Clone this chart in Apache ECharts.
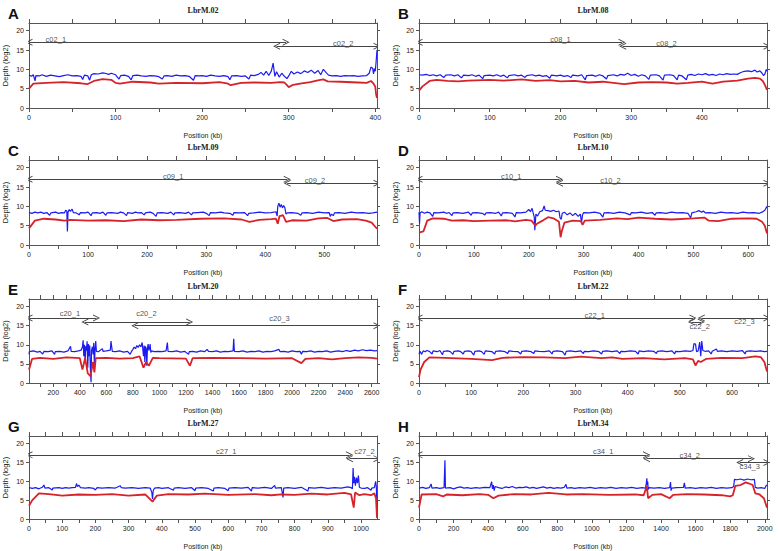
<!DOCTYPE html>
<html><head><meta charset="utf-8">
<script src="https://cdn.jsdelivr.net/npm/echarts@6/dist/echarts.min.js"></script>
<style>html,body{margin:0;padding:0;background:#fff}#c{width:779px;height:551px}</style>
</head><body><div id="c"></div>
<script>
// ---------------- DATA ----------------
const panelTitles = ['LbrM.02','LbrM.08','LbrM.09','LbrM.10','LbrM.20','LbrM.22','LbrM.27','LbrM.34'];
const panelLetters = ['A','B','C','D','E','F','G','H'];
const xMin = [0,0,0,0,17,0,0,0];
const xMax = [402,492,589,634,2640,667,1048,2013];
const xTickStep = [50,50,50,50,100,50,50,100];
const xLabelsA = [0,100,200,300,400];
const xLabelsB = [0,100,200,300,400];
const xLabelsC = [0,100,200,300,400,500];
const xLabelsD = [0,100,200,300,400,500,600];
const xLabelsE = [200,400,600,800,1000,1200,1400,1600,1800,2000,2200,2400,2600];
const xLabelsF = [0,100,200,300,400,500,600];
const xLabelsG = [0,100,200,300,400,500,600,700,800,900,1000];
const xLabelsH = [0,200,400,600,800,1000,1200,1400,1600,1800,2000];
const yLabels = [0,5,10,15,20];
const yMax = 22;

const blueA = [[0,8.5],[3,8.2],[5,8.6],[7,7.0],[8,8.4],[12,8.3],[15,8.6],[20,8.2],[25,8.5],[30,8.3],[35,8.1],[40,8.4],[45,8.6],[50,8.3],[55,8.4],[60,8.2],[62,7.4],[64,8.5],[68,8.3],[70,7.2],[72,8.6],[75,8.9],[80,8.8],[85,9.1],[88,9.0],[92,8.7],[95,9.0],[100,8.6],[104,7.5],[106,8.4],[110,8.5],[115,8.2],[118,7.3],[120,8.4],[125,8.5],[130,8.3],[135,8.2],[140,8.4],[145,8.3],[150,8.1],[154,7.5],[156,8.3],[160,8.4],[165,8.2],[170,8.5],[175,8.3],[180,8.4],[185,8.2],[190,7.2],[192,8.4],[196,8.3],[200,8.4],[205,8.2],[210,8.5],[215,8.3],[220,8.2],[225,8.4],[230,8.1],[232,7.3],[234,8.3],[240,8.4],[245,8.2],[250,8.3],[254,7.5],[256,8.5],[260,8.4],[265,8.7],[268,9.2],[271,8.5],[274,9.5],[277,8.4],[280,9.6],[282,11.6],[284,8.2],[286,9.4],[289,8.0],[292,9.0],[295,8.2],[298,7.6],[300,8.3],[303,9.5],[306,8.8],[310,9.3],[314,8.9],[318,9.6],[322,9.2],[326,9.8],[330,9.0],[334,9.7],[337,8.6],[340,10.0],[343,9.2],[346,8.5],[350,8.3],[355,8.4],[360,8.2],[365,8.4],[370,8.3],[375,8.4],[380,8.2],[385,8.3],[390,8.4],[393,9.0],[395,10.6],[397,10.3],[398,8.8],[399,10.2],[400,9.5],[401,12.0],[402,15.0]];
const redA = [[0,5.0],[5,6.3],[20,6.5],[40,6.7],[60,6.4],[68,6.2],[75,7.0],[85,7.5],[95,7.3],[100,6.5],[105,6.3],[120,6.8],[140,6.6],[150,6.3],[170,6.5],[200,6.4],[220,6.7],[230,6.3],[233,5.9],[245,6.5],[260,6.6],[280,6.5],[290,6.7],[295,6.6],[298,5.9],[300,5.4],[305,6.0],[315,6.4],[325,6.7],[335,7.2],[340,7.4],[345,6.9],[360,6.8],[380,6.6],[390,6.5],[395,7.0],[398,6.3],[400,5.5],[401,3.5],[402,2.6]];

const blueB = [[0,8.6],[5,8.5],[10,8.7],[15,8.4],[20,8.6],[25,8.3],[30,8.6],[35,7.9],[38,8.5],[45,8.6],[50,8.3],[55,8.6],[60,7.8],[63,8.5],[70,8.4],[75,8.6],[80,8.2],[85,8.5],[90,7.6],[92,8.4],[100,8.5],[105,8.3],[110,8.6],[115,8.2],[120,8.5],[125,7.8],[127,8.4],[135,8.6],[140,8.3],[145,8.5],[150,7.9],[152,8.4],[160,8.6],[165,8.3],[170,8.5],[175,8.2],[180,8.4],[185,7.7],[187,8.5],[195,8.3],[200,8.5],[205,8.2],[210,8.4],[215,7.9],[217,8.5],[225,8.3],[230,8.6],[235,7.3],[237,8.4],[245,8.5],[250,8.2],[255,8.6],[260,8.3],[265,7.5],[267,8.4],[275,8.6],[280,8.3],[285,8.7],[290,8.5],[295,9.0],[300,8.4],[305,8.7],[310,8.2],[315,8.6],[320,8.3],[325,7.4],[327,8.5],[335,8.6],[340,8.3],[345,7.2],[347,8.5],[355,8.6],[360,8.4],[365,7.3],[367,8.5],[372,8.3],[378,7.3],[380,8.5],[385,8.7],[390,8.4],[395,8.8],[400,8.6],[405,8.9],[410,8.5],[415,8.7],[420,8.4],[425,8.8],[430,8.6],[435,8.9],[440,8.7],[445,8.8],[450,8.7],[455,9.2],[460,9.5],[465,9.6],[470,9.4],[475,9.8],[478,9.3],[482,9.6],[485,9.0],[487,8.4],[489,8.8],[491,10.0],[492,9.5]];
const redB = [[0,4.5],[5,5.6],[15,7.0],[25,7.3],[40,7.0],[55,6.9],[70,7.1],[100,7.3],[120,7.1],[145,7.4],[165,7.0],[185,7.2],[200,6.9],[220,7.0],[240,6.6],[260,6.8],[275,6.5],[290,6.2],[310,6.6],[330,6.7],[350,6.6],[365,6.3],[380,6.5],[400,6.8],[415,6.3],[430,6.8],[450,7.1],[465,7.6],[475,7.8],[482,7.6],[486,7.0],[489,6.0],[492,4.7]];

const blueC = [[0,8.4],[5,8.2],[10,8.5],[15,8.3],[20,8.5],[25,8.2],[30,8.4],[35,7.7],[37,8.3],[45,8.5],[50,8.2],[55,8.4],[60,8.3],[62,9.0],[64,8.8],[65,3.5],[66,8.5],[68,9.2],[70,8.7],[73,9.3],[75,8.4],[80,8.3],[85,7.8],[87,8.4],[95,8.3],[100,8.5],[105,7.6],[107,8.3],[115,8.4],[120,8.2],[125,8.5],[130,7.7],[132,8.3],[140,8.4],[150,8.2],[155,8.5],[160,8.3],[165,7.6],[167,8.4],[175,8.2],[180,8.5],[185,8.3],[190,8.4],[195,7.8],[197,8.3],[205,8.5],[210,8.2],[215,7.4],[217,8.3],[225,8.4],[235,8.2],[240,8.5],[245,7.8],[247,8.3],[255,8.4],[265,8.2],[270,8.5],[275,7.8],[277,8.3],[285,8.4],[295,8.5],[300,8.2],[305,7.6],[307,8.4],[315,8.3],[325,8.5],[330,8.3],[340,8.2],[345,7.7],[347,8.4],[355,8.3],[365,8.4],[370,7.6],[372,8.2],[380,8.3],[390,8.5],[400,8.3],[410,8.4],[418,8.6],[420,7.5],[421,10.0],[423,10.8],[425,9.8],[427,10.5],[429,9.6],[431,10.2],[433,9.7],[435,8.0],[437,8.3],[445,8.4],[455,8.2],[460,7.7],[462,8.3],[470,8.4],[480,8.2],[490,8.5],[500,8.3],[508,8.4],[510,7.4],[512,8.0],[515,7.6],[517,8.3],[525,8.4],[535,8.2],[545,8.5],[555,8.3],[565,8.4],[575,8.2],[582,8.3],[589,8.5]];
const redC = [[0,4.3],[10,6.3],[25,6.8],[45,6.6],[60,6.3],[70,6.5],[100,6.3],[130,6.4],[160,6.2],[190,6.6],[220,6.4],[250,6.5],[290,6.8],[330,6.9],[360,6.6],[373,6.0],[390,6.5],[410,6.7],[418,6.8],[421,5.5],[424,7.5],[430,7.7],[435,6.0],[445,6.4],[470,6.3],[490,6.9],[505,7.0],[515,6.2],[530,6.6],[555,6.7],[570,6.3],[580,5.8],[589,4.2]];

const blueD = [[0,8.5],[1,5.5],[2,8.3],[5,8.6],[10,8.2],[15,8.5],[20,8.3],[25,7.4],[27,8.4],[35,8.3],[45,8.5],[50,8.2],[55,8.4],[60,7.6],[62,8.3],[70,8.4],[80,8.2],[90,8.5],[95,7.7],[97,8.3],[105,8.4],[115,8.2],[120,7.8],[122,8.3],[130,8.4],[140,8.2],[145,8.5],[150,7.5],[152,8.3],[160,8.4],[170,8.2],[175,7.3],[177,8.4],[185,8.3],[195,8.5],[200,9.2],[203,8.6],[206,9.5],[208,8.3],[210,7.2],[211,3.8],[213,8.0],[216,7.5],[220,8.6],[225,8.9],[228,10.1],[230,9.0],[235,8.9],[240,8.7],[245,9.0],[250,8.6],[255,8.8],[257,7.0],[259,6.6],[261,8.2],[265,8.5],[270,7.8],[275,8.3],[280,7.6],[285,8.2],[290,7.4],[294,8.0],[296,5.8],[298,7.8],[300,8.4],[310,8.3],[320,8.5],[330,8.2],[335,7.2],[337,8.3],[345,8.4],[355,8.2],[365,8.5],[375,8.3],[385,7.8],[387,8.4],[395,8.3],[405,8.5],[415,8.2],[425,8.4],[430,7.7],[432,8.3],[440,8.4],[450,8.2],[460,8.5],[470,8.3],[480,8.4],[490,8.2],[495,7.0],[497,8.3],[505,8.6],[510,8.9],[515,8.5],[518,8.8],[522,8.3],[530,8.4],[540,8.2],[550,8.5],[560,8.3],[570,8.4],[580,8.2],[590,8.5],[600,8.3],[610,8.4],[620,8.2],[625,8.5],[630,9.0],[634,10.0]];
const redD = [[0,3.2],[8,3.5],[15,6.3],[25,6.9],[45,6.8],[60,6.3],[80,6.4],[100,6.2],[130,6.3],[160,6.4],[175,6.1],[195,6.5],[205,6.3],[212,5.0],[215,5.5],[225,6.3],[235,7.2],[245,6.9],[255,6.0],[258,2.0],[260,3.5],[265,5.8],[280,6.3],[295,6.2],[298,5.2],[302,6.3],[330,6.5],[360,6.9],[380,6.7],[400,7.1],[430,6.8],[460,6.6],[500,6.9],[520,7.1],[528,6.3],[545,6.2],[570,6.8],[600,6.9],[615,6.8],[625,6.0],[630,5.0],[634,3.0]];

const blueE = [[17,7.5],[20,8.2],[50,8.4],[80,8.1],[100,8.3],[120,7.6],[130,8.3],[160,8.2],[190,8.4],[210,7.5],[215,8.2],[250,8.3],[280,8.1],[310,8.4],[330,9.6],[335,8.3],[360,8.2],[390,8.4],[410,8.6],[420,9.5],[425,11.2],[430,7.0],[435,10.0],[440,5.5],[445,9.6],[450,8.5],[455,10.9],[460,4.0],[465,10.2],[470,7.0],[475,9.8],[480,3.0],[485,0.2],[488,8.5],[495,9.5],[500,7.5],[505,10.5],[510,4.5],[515,9.0],[520,11.0],[525,8.3],[540,8.2],[570,9.0],[575,8.3],[600,8.4],[630,8.6],[635,11.0],[640,9.6],[645,8.3],[670,8.2],[700,8.4],[730,8.1],[760,8.3],[780,7.5],[790,8.3],[800,8.8],[810,9.4],[820,9.0],[830,9.8],[840,9.3],[850,10.0],[860,9.5],[870,10.6],[880,7.0],[885,9.8],[890,5.5],[895,9.6],[900,9.0],[905,4.5],[910,9.2],[915,10.2],[920,8.5],[925,9.0],[930,10.2],[935,8.0],[940,8.4],[960,8.2],[990,8.3],[1020,8.2],[1050,8.4],[1060,10.6],[1065,8.3],[1100,8.2],[1130,8.4],[1160,8.1],[1190,8.3],[1220,7.5],[1225,8.2],[1250,8.3],[1280,8.1],[1310,8.4],[1340,8.2],[1360,8.8],[1370,8.3],[1400,8.2],[1430,8.4],[1460,8.1],[1490,8.3],[1520,8.2],[1555,8.4],[1560,11.6],[1565,8.3],[1600,8.2],[1630,8.4],[1660,8.1],[1690,8.3],[1720,8.2],[1750,8.4],[1780,8.1],[1810,8.3],[1840,8.2],[1870,8.4],[1900,8.8],[1910,8.2],[1940,8.3],[1970,8.1],[2000,8.4],[2030,8.2],[2060,8.3],[2070,7.5],[2080,8.3],[2110,8.2],[2140,8.4],[2170,8.1],[2200,8.3],[2230,8.2],[2260,8.4],[2290,8.1],[2320,8.3],[2350,8.4],[2380,8.2],[2410,8.5],[2440,8.3],[2470,8.6],[2500,8.4],[2530,8.7],[2560,8.5],[2590,8.6],[2620,8.4],[2640,8.5]];
const redE = [[17,3.5],[40,6.3],[100,6.6],[200,6.3],[300,6.7],[400,6.5],[420,3.5],[440,6.5],[460,2.5],[480,1.8],[500,5.5],[510,2.8],[520,6.5],[600,6.6],[700,6.4],[800,6.5],[850,7.0],[880,4.0],[900,5.5],[920,4.5],[950,6.6],[1000,6.5],[1200,6.4],[1230,4.5],[1250,6.5],[1400,6.6],[1600,6.5],[1800,6.4],[2000,6.5],[2070,5.2],[2100,6.3],[2200,6.5],[2300,6.2],[2400,6.5],[2500,6.7],[2600,6.6],[2640,6.4]];

const blueF = [[0,7.6],[2,8.3],[5,7.5],[8,8.4],[12,8.2],[15,8.5],[20,8.3],[25,7.6],[27,8.4],[35,8.2],[40,8.5],[45,7.4],[47,8.3],[55,8.4],[60,8.2],[65,7.5],[67,8.3],[75,8.4],[80,8.2],[85,7.6],[87,8.3],[95,8.4],[100,8.2],[105,7.3],[107,8.3],[115,8.4],[120,8.2],[125,7.5],[127,8.4],[135,8.3],[140,8.2],[145,7.6],[147,8.3],[155,8.4],[165,8.2],[170,7.7],[172,8.4],[180,8.3],[190,8.2],[195,7.6],[197,8.3],[205,8.4],[215,8.2],[220,7.7],[222,8.4],[230,8.3],[240,8.2],[250,8.4],[255,7.6],[257,8.3],[265,8.4],[275,8.2],[280,7.3],[282,8.3],[290,8.4],[300,8.2],[310,8.4],[315,7.7],[317,8.3],[325,8.2],[335,8.4],[345,8.2],[350,7.6],[352,8.3],[360,8.4],[370,8.2],[380,8.4],[385,7.7],[387,8.3],[395,8.2],[405,8.4],[415,8.3],[420,7.6],[422,8.4],[430,8.2],[440,8.4],[450,8.3],[455,7.7],[457,8.3],[465,8.4],[475,8.2],[485,8.4],[490,7.6],[492,8.3],[500,8.2],[510,8.4],[520,8.3],[525,8.5],[527,10.3],[530,10.2],[532,8.2],[535,8.4],[538,10.7],[540,7.0],[542,11.0],[544,8.5],[548,8.3],[555,8.4],[560,7.6],[562,8.3],[570,8.9],[572,8.3],[580,8.4],[590,8.2],[600,8.4],[610,8.3],[620,8.5],[625,7.6],[627,8.3],[635,8.4],[645,8.3],[655,8.4],[662,8.2],[667,8.3]];
const redF = [[0,1.5],[3,3.5],[10,5.5],[20,6.7],[50,6.6],[100,6.3],[140,6.0],[160,6.6],[200,6.8],[240,6.7],[280,6.5],[310,6.9],[350,6.5],[370,6.7],[390,6.3],[430,6.5],[470,6.2],[510,6.5],[525,6.2],[530,4.6],[535,5.8],[540,5.5],[550,6.3],[580,6.6],[620,6.5],[645,7.0],[655,6.8],[662,5.5],[667,3.0]];

const blueG = [[0,8.3],[10,8.1],[20,8.3],[30,8.0],[40,8.4],[45,9.0],[48,8.2],[60,8.3],[70,7.7],[72,8.2],[90,8.3],[100,8.1],[110,8.3],[120,8.2],[130,8.3],[140,8.4],[143,9.4],[146,8.6],[150,9.0],[155,8.3],[170,8.2],[180,8.3],[195,8.1],[200,7.7],[205,8.3],[220,8.2],[240,8.3],[260,8.2],[275,8.8],[278,8.3],[290,8.2],[310,8.3],[330,8.1],[350,8.3],[365,8.2],[370,7.0],[372,5.3],[374,7.5],[378,8.2],[390,8.3],[400,8.1],[420,8.3],[435,7.6],[437,8.2],[450,8.3],[470,8.1],[490,8.3],[500,7.5],[502,8.2],[520,8.3],[540,8.1],[555,7.4],[557,8.2],[570,8.3],[590,8.1],[600,7.5],[602,8.2],[620,8.3],[640,8.2],[660,8.4],[670,7.4],[672,8.3],[690,8.2],[710,8.4],[730,8.1],[740,8.9],[742,8.2],[760,8.3],[765,5.7],[767,8.2],[780,8.3],[800,8.1],[820,8.4],[840,7.4],[842,8.3],[860,8.2],[880,8.4],[900,8.1],[920,8.3],[940,8.2],[960,8.5],[970,8.3],[974,8.0],[976,13.5],[978,9.5],[980,11.2],[983,8.8],[986,11.0],[989,9.5],[992,11.5],[995,8.4],[1000,8.2],[1010,8.1],[1020,8.3],[1030,7.6],[1032,8.2],[1040,8.3],[1044,10.0],[1046,8.5],[1048,3.0]];
const redG = [[0,3.5],[10,5.0],[30,6.8],[60,6.6],[100,6.2],[150,6.5],[200,6.4],[250,6.6],[300,6.2],[350,6.5],[372,4.6],[385,6.2],[420,6.6],[480,6.5],[530,6.7],[600,6.4],[680,6.6],[730,6.3],[760,6.5],[800,6.4],[850,6.7],[900,6.5],[950,6.9],[970,6.5],[978,3.0],[982,7.0],[995,6.3],[1010,6.6],[1030,6.3],[1040,6.8],[1045,5.5],[1048,0.3]];

const blueH = [[0,8.2],[20,8.4],[40,8.1],[60,8.3],[70,9.3],[75,8.2],[100,8.3],[120,8.1],[145,8.3],[150,15.6],[153,8.2],[180,8.3],[200,8.0],[220,8.3],[240,8.5],[260,8.2],[280,8.3],[300,8.1],[330,8.3],[350,8.2],[380,8.4],[410,8.3],[420,9.9],[425,8.0],[430,9.0],[435,7.5],[440,8.6],[460,8.3],[480,8.1],[500,8.5],[520,8.3],[540,8.6],[560,8.2],[580,8.4],[600,8.3],[620,8.5],[640,8.2],[660,8.4],[680,8.1],[700,8.3],[720,8.5],[740,8.2],[760,8.4],[780,8.1],[800,8.3],[820,8.2],[840,8.4],[850,9.2],[855,8.2],[880,8.3],[900,8.1],[930,8.3],[960,8.2],[990,8.4],[1020,8.1],[1050,8.3],[1080,8.2],[1110,8.4],[1140,8.1],[1170,8.3],[1200,8.2],[1230,8.4],[1260,8.1],[1290,8.3],[1310,8.2],[1315,9.5],[1318,10.8],[1320,9.0],[1323,9.9],[1326,7.8],[1330,8.3],[1360,8.2],[1390,8.3],[1420,8.1],[1450,8.3],[1455,9.8],[1458,7.5],[1462,8.2],[1490,8.3],[1530,8.4],[1535,9.6],[1540,8.2],[1570,8.3],[1600,8.1],[1630,8.3],[1660,8.2],[1690,8.4],[1720,8.1],[1750,8.3],[1780,8.2],[1810,8.3],[1820,8.6],[1825,10.5],[1840,10.4],[1860,10.6],[1880,10.3],[1900,10.6],[1920,10.4],[1940,10.5],[1945,8.4],[1960,8.2],[1980,8.3],[2000,8.1],[2010,9.0],[2013,8.8]];
const redH = [[0,3.0],[15,6.5],[100,6.6],[140,6.0],[160,6.5],[250,6.3],[350,6.6],[400,6.4],[430,5.5],[460,6.2],[550,6.6],[650,6.5],[750,6.9],[850,6.5],[950,6.6],[1100,6.4],[1250,6.5],[1300,6.3],[1318,8.8],[1325,5.5],[1350,6.4],[1400,6.6],[1450,5.5],[1470,6.4],[1550,6.6],[1650,6.5],[1750,6.3],[1800,6.0],[1815,6.3],[1830,8.8],[1860,9.0],[1890,9.7],[1910,9.4],[1930,9.0],[1945,6.8],[1970,6.5],[1995,5.5],[2013,3.0]];

// contigs: [name, start, end, level, labelX, labelY]
const contigsA = [['c02_1',0,297,17,31,17.8],['c02_2',286,402,16,363,16.8]];
const contigsB = [['c08_1',0,287,17,200,17.8],['c08_2',288,492,16,350,16.8]];
const contigsC = [['c09_1',0,437,17,244,17.8],['c09_2',437,589,16,484,16.8]];
const contigsD = [['c10_1',0,256,17,168,17.8],['c10_2',256,634,16,349,16.8]];
const contigsE = [['c20_1',17,526,17,325,18.2],['c20_2',438,1228,16,902,18.1],['c20_3',814,2640,15,1905,17.0]];
const contigsF = [['c22_1',0,525,17,337,17.8],['c22_2',522,541,16,538,14.8],['c22_3',541,667,17,624,16.0]];
const contigsG = [['c27_1',0,965,17,594,17.8],['c27_2',965,1048,16,1010,17.8]];
const contigsH = [['c34_1',0,1316,17,1065,17.8],['c34_2',1316,1923,16,1566,16.8],['c34_3',1855,2013,15,1913,14.0]];

// ---------------- BUILD ----------------
const blues = [blueA,blueB,blueC,blueD,blueE,blueF,blueG,blueH];
const reds = [redA,redB,redC,redD,redE,redF,redG,redH];
const contigs = [contigsA,contigsB,contigsC,contigsD,contigsE,contigsF,contigsG,contigsH];
const xLabels = [xLabelsA,xLabelsB,xLabelsC,xLabelsD,xLabelsE,xLabelsF,xLabelsG,xLabelsH];

const colLeft = [29, 419];
const gridW = 348;
const rowTop = [23, 160, 299, 436];
const rowH = [85, 85, 84, 84];

const AX = '#555';
const TXT = '#222';
const SANS = 'Liberation Sans, Arial, sans-serif';
const chevron = 'path://M0,10 L5,0 L10,10 L8.6,10 L5,2.8 L1.4,10 Z';
const plain = v => String(v);

const grids = [], xAxes = [], yAxes = [], series = [], graphics = [];
for (let i = 0; i < 8; i++) {
  const col = i % 2, row = Math.floor(i / 2);
  grids.push({left: colLeft[col], top: rowTop[row], width: gridW, height: rowH[row], containLabel: false});
  const ticks = [];
  for (let v = 0; v <= xMax[i]; v += xTickStep[i]) if (v >= xMin[i]) ticks.push(v);
  xAxes.push({
    gridIndex: i, type: 'value', min: xMin[i], max: xMax[i], position: 'bottom',
    axisLine: {show: true, onZero: false, lineStyle: {color: AX, width: 1}},
    axisTick: {show: true, inside: false, length: 4, customValues: ticks, lineStyle: {color: AX}},
    axisLabel: {customValues: xLabels[i], formatter: plain, fontSize: 7, fontFamily: SANS, color: TXT, margin: 6},
    splitLine: {show: false},
    name: 'Position (kb)', nameLocation: 'middle', nameGap: 24,
    nameTextStyle: {fontSize: 7, fontFamily: SANS, color: TXT}
  });
  xAxes.push({
    gridIndex: i, type: 'value', min: xMin[i], max: xMax[i], position: 'top',
    axisLine: {show: true, onZero: false, lineStyle: {color: AX, width: 1}},
    axisTick: {show: true, inside: false, length: 4, customValues: ticks, lineStyle: {color: AX}},
    axisLabel: {show: false}, splitLine: {show: false}
  });
  yAxes.push({
    gridIndex: i, type: 'value', min: 0, max: yMax, position: 'left',
    axisLine: {show: true, onZero: false, lineStyle: {color: AX, width: 1}},
    axisTick: {show: true, inside: false, length: 3, customValues: yLabels, lineStyle: {color: AX}},
    axisLabel: {customValues: yLabels, formatter: plain, fontSize: 7, fontFamily: SANS, color: TXT, margin: 5},
    splitLine: {show: false},
    name: 'Depth (log2)', nameLocation: 'middle', nameGap: 20, nameRotate: 90,
    nameTextStyle: {fontSize: 7.5, fontFamily: SANS, color: TXT}
  });
  yAxes.push({
    gridIndex: i, type: 'value', min: 0, max: yMax, position: 'right',
    axisLine: {show: true, onZero: false, lineStyle: {color: AX, width: 1}},
    axisTick: {show: true, inside: false, length: 3, customValues: yLabels, lineStyle: {color: AX}},
    axisLabel: {show: false}, splitLine: {show: false}
  });
  const xi = 2 * i, yi = 2 * i;
  series.push({
    type: 'line', xAxisIndex: xi, yAxisIndex: yi, data: blues[i], showSymbol: false,
    lineStyle: {color: '#1c1cf0', width: 1.2}, itemStyle: {color: '#1c1cf0'}, silent: true, animation: false, z: 2
  });
  series.push({
    type: 'line', xAxisIndex: xi, yAxisIndex: yi, data: reds[i], showSymbol: false,
    lineStyle: {color: '#d8222a', width: 1.8}, itemStyle: {color: '#d8222a'}, silent: true, animation: false, z: 3
  });
  series.push({
    type: 'lines', coordinateSystem: 'cartesian2d', xAxisIndex: xi, yAxisIndex: yi,
    data: contigs[i].map(c => ({coords: [[c[1], c[3]], [c[2], c[3]]]})),
    symbol: [chevron, chevron], symbolSize: 7,
    lineStyle: {color: '#444', width: 1, opacity: 1}, silent: true, animation: false, z: 4
  });
  series.push({
    type: 'scatter', xAxisIndex: xi, yAxisIndex: yi, symbolSize: 0, silent: true, animation: false, z: 5,
    data: contigs[i].map(c => ({value: [c[4], c[5]], name: c[0]})),
    label: {show: true, position: 'inside', formatter: '{b}', fontSize: 7.5, fontFamily: SANS, color: TXT}
  });
  const cx = colLeft[col] + gridW / 2;
  graphics.push({type: 'text', x: cx, y: rowTop[row] - 13, style: {text: panelTitles[i], font: 'bold 8px "Liberation Serif", serif', fill: TXT, align: 'center', verticalAlign: 'middle', textAlign: 'center', textVerticalAlign: 'middle'}});
  graphics.push({type: 'text', x: colLeft[col] - 21, y: rowTop[row] - 10, style: {text: panelLetters[i], font: 'bold 15px "Liberation Sans", Arial, sans-serif', fill: '#111', align: 'left', verticalAlign: 'middle', textAlign: 'left', textVerticalAlign: 'middle'}});
}

const chart = echarts.init(document.getElementById('c'), null, {renderer: 'svg'});
chart.setOption({
  animation: false,
  backgroundColor: '#fff',
  grid: grids, xAxis: xAxes, yAxis: yAxes, series: series, graphic: graphics
});
</script></body></html>
